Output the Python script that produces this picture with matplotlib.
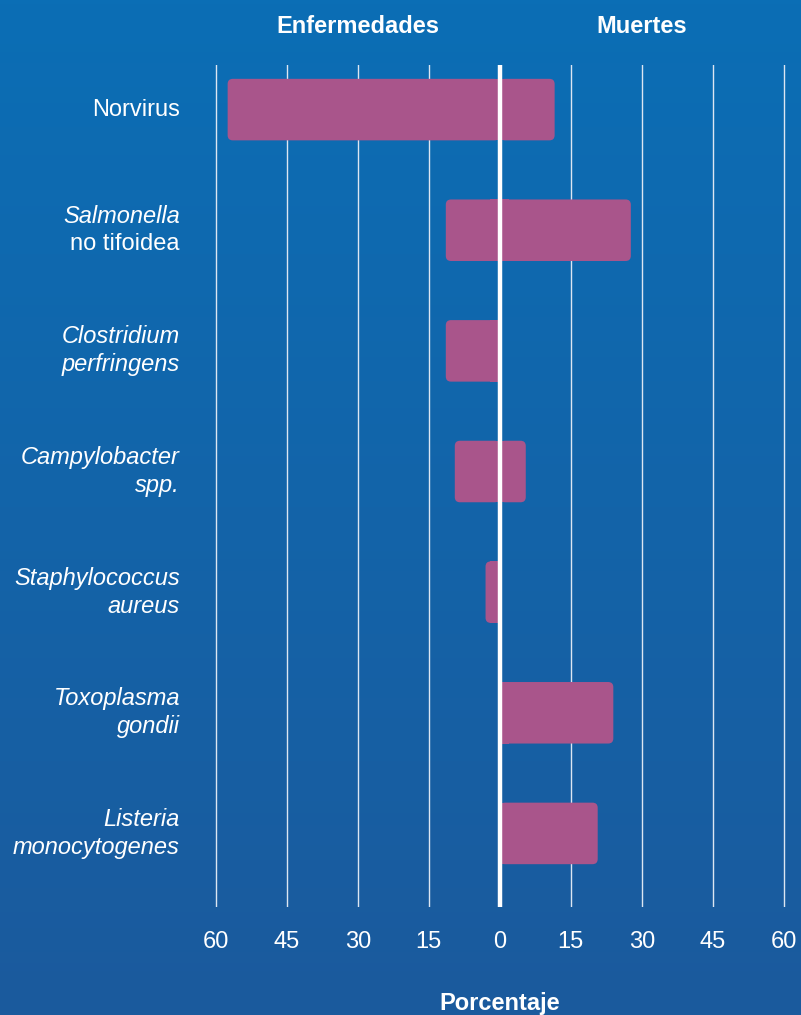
import numpy as np
import matplotlib
matplotlib.use("Agg")
import matplotlib.pyplot as plt
from matplotlib.colors import LinearSegmentedColormap
from matplotlib.patches import FancyBboxPatch, Rectangle

plt.rcParams["font.family"] = ["Liberation Sans", "DejaVu Sans"]

# ── data (percent) ───────────────────────────────────────────
pathogens_line1 = ["Norvirus", "Salmonella", "Clostridium", "Campylobacter",
                   "Staphylococcus", "Toxoplasma", "Listeria"]
pathogens_line2 = ["", "no tifoidea", "perfringens", "spp.",
                   "aureus", "gondii", "monocytogenes"]
line1_italic = [False, True, True, True, True, True, True]
line2_italic = [False, False, True, True, True, True, True]
illnesses = [57.5, 11.4, 11.4, 9.5, 3.0, 0, 0]
deaths = [11.6, 27.7, 0, 5.5, 0, 24.0, 20.7]
ticks = [-60, -45, -30, -15, 0, 15, 30, 45, 60]

BAR = "#a9558b"
WHITE = "white"

fig = plt.figure(figsize=(8.01, 10.15), dpi=100)

# background gradient
bg = fig.add_axes([0, 0, 1, 1], zorder=-10)
cmap = LinearSegmentedColormap.from_list("bg", ["#0b6eb5", "#1b5a9d"])
bg.imshow(np.linspace(0, 1, 256).reshape(-1, 1), aspect="auto", cmap=cmap,
          extent=[0, 1, 0, 1])
bg.axis("off")

ax = fig.add_axes([0.2576, 0.1064, 0.7326, 0.8296])
ax.patch.set_alpha(0)
ax.set_xlim(-62, 62)
ax.set_ylim(6.61, -0.37)
for sp in ax.spines.values():
    sp.set_visible(False)

# grid
for t in ticks:
    if t == 0:
        ax.axvline(0, color=WHITE, lw=3.2, zorder=5)
    else:
        ax.axvline(t, color="#dce6f2", lw=1.0, zorder=1)

# bars (rounded outer ends, square at zero)
h = 0.51
r = 1.1
asp = (1 / 120.9) / (1 / 4.733)
for i, (ill, dth) in enumerate(zip(illnesses, deaths)):
    y0 = i - h / 2
    if ill > 0:
        ax.add_patch(FancyBboxPatch((-ill, y0), ill, h,
                                    boxstyle=f"round,pad=0,rounding_size={r}",
                                    mutation_aspect=asp, fc=BAR, ec="none", zorder=3))
        ax.add_patch(Rectangle((-min(ill, 2), y0), min(ill, 2), h,
                               fc=BAR, ec="none", zorder=3))
    if dth > 0:
        ax.add_patch(FancyBboxPatch((0, y0), dth, h,
                                    boxstyle=f"round,pad=0,rounding_size={r}",
                                    mutation_aspect=asp, fc=BAR, ec="none", zorder=3))
        ax.add_patch(Rectangle((0, y0), min(dth, 2), h,
                               fc=BAR, ec="none", zorder=3))

# category labels
ytr = ax.get_yaxis_transform()
for i in range(len(pathogens_line1)):
    l1, l2 = pathogens_line1[i], pathogens_line2[i]
    if l2:
        offs = [(l1, 10, line1_italic[i]), (l2, -10, line2_italic[i])]
    else:
        offs = [(l1, 0, line1_italic[i])]
    for txt, dy, it in offs:
        ax.annotate(txt, xy=(0, i), xycoords=ytr, xytext=(-19, dy),
                    textcoords="offset points", ha="right", va="center",
                    color=WHITE, fontsize=17,
                    style="italic" if it else "normal")

# x ticks
ax.set_xticks(ticks)
ax.set_xticklabels([str(abs(t)) for t in ticks])
ax.tick_params(axis="x", length=0, pad=17, labelsize=17, labelcolor=WHITE)
ax.tick_params(axis="y", left=False, labelleft=False)

# headers
xtr = ax.get_xaxis_transform()
ax.text(-30, 1 + (65 - 27) / 842, "Enfermedades", transform=xtr, ha="center",
        va="center", color=WHITE, fontsize=17, fontweight="bold")
ax.text(30, 1 + (65 - 27) / 842, "Muertes", transform=xtr, ha="center",
        va="center", color=WHITE, fontsize=17, fontweight="bold")
ax.text(0, -(1010 - 907) / 842, "Porcentaje", transform=xtr, ha="center",
        va="baseline", color=WHITE, fontsize=17, fontweight="bold")

fig.savefig("out.png", dpi=100)
